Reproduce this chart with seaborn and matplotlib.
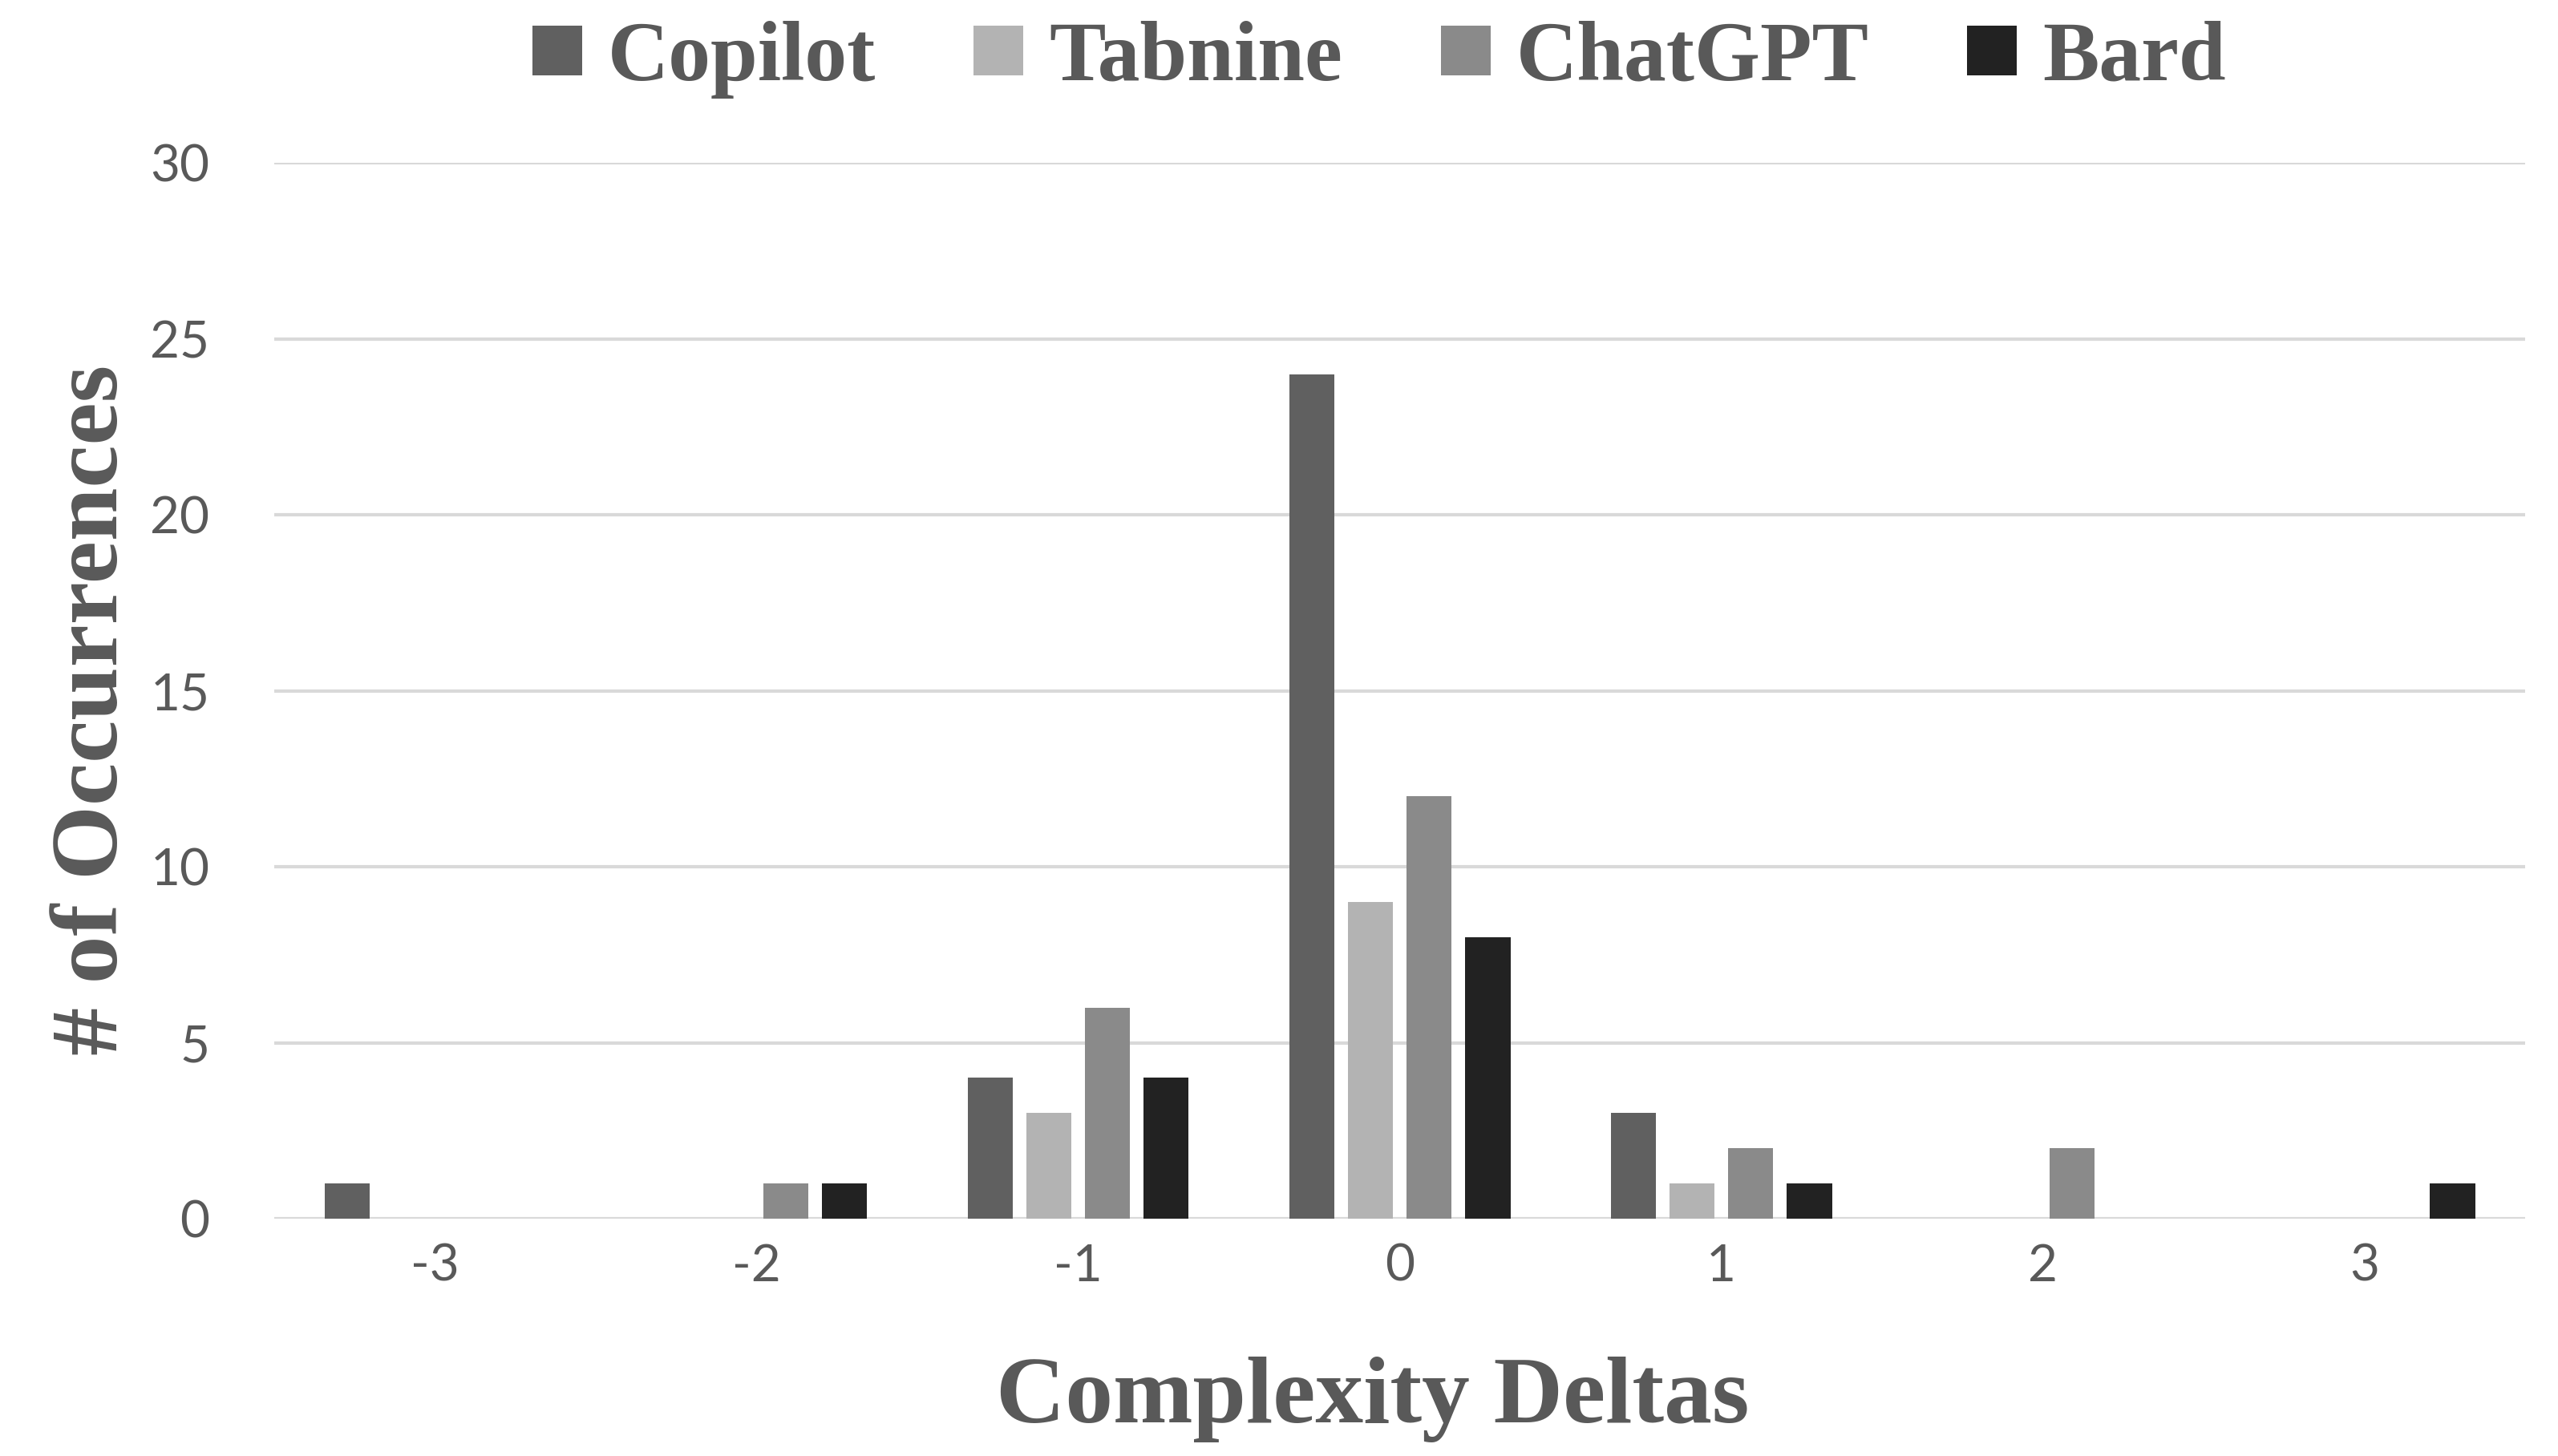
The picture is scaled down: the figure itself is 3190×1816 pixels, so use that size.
import pandas as pd
import matplotlib.pyplot as plt
import seaborn as sns
from matplotlib.lines import Line2D

# Values
deltas = ["-3", "-2", "-1", "0", "1", "2", "3"]
tools = ["Copilot", "Tabnine", "ChatGPT", "Bard"]
copilot = [1, 0, 4, 24, 3, 0, 0]
tabnine = [0, 0, 3, 9, 1, 0, 0]
chatgpt = [0, 1, 6, 12, 2, 2, 0]
bard = [0, 1, 4, 8, 1, 0, 1]
y_ticks = [0, 5, 10, 15, 20, 25, 30]

colors = {"Copilot": "#606060", "Tabnine": "#b3b3b3",
          "ChatGPT": "#8a8a8a", "Bard": "#222222"}
text_color = "#595959"

rows = []
for tool, vals in zip(tools, [copilot, tabnine, chatgpt, bard]):
    for d, v in zip(deltas, vals):
        rows.append({"Delta": d, "Count": v, "Tool": tool})
df = pd.DataFrame(rows)

sns.set_theme(style="white")
plt.rcParams["font.family"] = ["Lato", "DejaVu Sans"]

fig = plt.figure(figsize=(31.9, 18.16), dpi=100)
ax = fig.add_axes([0.1072, 0.163, 0.88, 0.725])

sns.barplot(data=df, x="Delta", y="Count", hue="Tool", order=deltas,
            hue_order=tools, palette=colors, width=0.73, gap=0.23,
            saturation=1, linewidth=0, legend=False, ax=ax)

ax.set_xlim(-0.5, 6.5)
ax.set_ylim(0, 30)
ax.set_yticks(y_ticks)
ax.yaxis.grid(True, color="#d9d9d9", linewidth=3)
ax.set_axisbelow(True)
for s in ax.spines.values():
    s.set_visible(False)
ax.tick_params(axis="both", length=0, labelsize=46, labelcolor=text_color)
ax.tick_params(axis="y", pad=58)
ax.tick_params(axis="x", pad=22)

serif = ["Liberation Serif", "DejaVu Serif"]
ax.set_xlabel("Complexity Deltas", fontsize=86, fontweight="bold",
              family=serif, color=text_color, labelpad=60)
ax.set_ylabel("# of Occurrences", fontsize=86, fontweight="bold",
              family=serif, color=text_color, labelpad=12)
ax.xaxis.label.set_x(0.488)
ax.yaxis.label.set_y(0.482)

handles = [Line2D([], [], linestyle="none", marker="s", markersize=44,
                  markerfacecolor=colors[t], markeredgewidth=0) for t in tools]
fig.legend(handles, tools, loc="center", bbox_to_anchor=(0.539, 0.959), ncol=4,
           frameon=False, handlelength=0.6, handletextpad=0.3, columnspacing=1.15,
           prop={"family": serif, "weight": "bold", "size": 76},
           labelcolor=text_color)

fig.savefig("out.png", dpi=100)
plt.close(fig)
